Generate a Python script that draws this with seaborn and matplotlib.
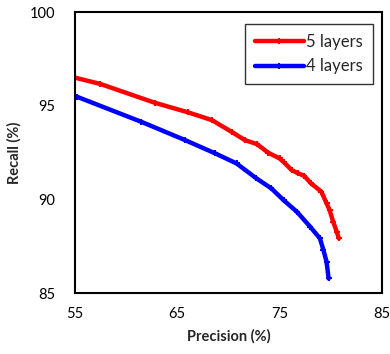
import matplotlib.pyplot as plt
import seaborn as sns

# Precision / recall values
prec_5 = [55.0, 57.5, 62.8, 66.1, 68.4, 70.4, 71.6, 72.8, 73.9, 75.0, 75.4, 76.2,
          76.8, 77.4, 78.1, 79.1, 79.6, 79.9, 80.25, 80.6, 80.8]
rec_5 = [96.5, 96.16, 95.16, 94.64, 94.23, 93.58, 93.17, 92.95, 92.49, 92.19, 92.0,
         91.56, 91.4, 91.26, 90.85, 90.41, 89.79, 89.43, 88.8, 88.27, 87.92]

prec_4 = [55.2, 61.5, 65.75, 68.7, 70.8, 72.75, 74.2, 75.4, 76.7, 78.0, 78.95,
          79.3, 79.6, 79.8]
rec_4 = [95.48, 94.14, 93.17, 92.46, 91.92, 91.12, 90.59, 89.96, 89.34, 88.54,
         87.92, 87.29, 86.67, 85.78]

sns.set_style("white")
plt.rcParams["font.family"] = ["Lato", "DejaVu Sans"]

fig = plt.figure(figsize=(3.9, 3.54), dpi=100)
ax = fig.add_axes([0.192, 0.172, 0.787, 0.794])

for px, ry, lab, col in [(prec_5, rec_5, "5 layers", "#ff0000"),
                         (prec_4, rec_4, "4 layers", "#0000ff")]:
    sns.lineplot(x=px, y=ry, color=col, label=lab, estimator=None, sort=False,
                 linewidth=3.2, marker="+", markersize=4, markeredgewidth=1.5,
                 markeredgecolor=col, ax=ax)

ax.set_xlim(55, 85)
ax.set_ylim(85, 100)
ax.set_xticks([55, 65, 75, 85])
ax.set_yticks([85, 90, 95, 100])
ax.tick_params(direction="in", length=5, width=1.2, labelsize=10.5, colors="black")
ax.tick_params(axis="x", pad=10)
ax.tick_params(axis="y", pad=14)
for sp in ax.spines.values():
    sp.set_color("black")
    sp.set_linewidth(1.5)

ax.set_xlabel("Precision (%)", fontsize=10.5, fontweight="bold", labelpad=6)
ax.set_ylabel("Recall (%)", fontsize=10.5, fontweight="bold", labelpad=6)

leg = ax.legend(loc="upper right", fontsize=12, frameon=True, fancybox=False,
                edgecolor="black", borderpad=0.6, borderaxespad=0,
                handlelength=2.9, handletextpad=0.15, labelspacing=0.5,
                bbox_to_anchor=(0.971, 0.957))
leg.get_frame().set_linewidth(1.0)

fig.savefig("out.png", dpi=100)
